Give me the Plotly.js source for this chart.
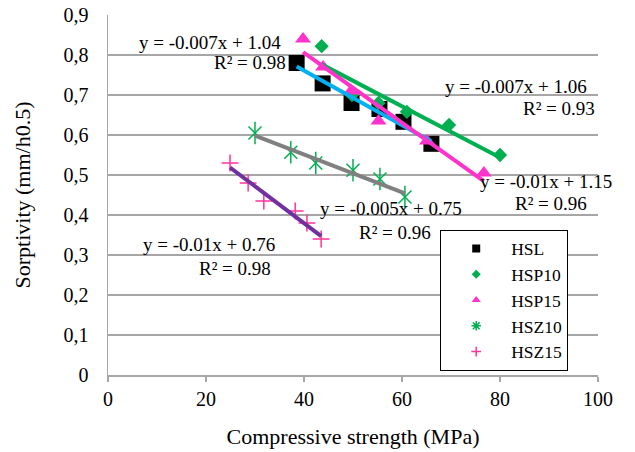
<!DOCTYPE html>
<html>
<head>
<meta charset="utf-8">
<script src="https://cdn.plot.ly/plotly-3.0.1.min.js"></script>
<style>html,body{margin:0;padding:0;background:#fff;}#chart{width:635px;height:452px;}</style>
</head>
<body>
<div id="chart"></div>
<script>
// ---- data ----
const seriesNames = ["HSL", "HSP10", "HSP15", "HSZ10", "HSZ15"];
const hslX   = [38.5, 43.8, 49.7, 55.4, 60.3, 66.0];
const hslY   = [0.78, 0.729, 0.68, 0.665, 0.633, 0.578];
const hsp10X = [43.6, 49.8, 55.2, 61.0, 69.6, 80.0];
const hsp10Y = [0.822, 0.70, 0.68, 0.658, 0.625, 0.55];
const hsp15X = [39.8, 43.9, 49.6, 55.2, 65.1, 76.7];
const hsp15Y = [0.84, 0.77, 0.71, 0.635, 0.585, 0.505];
const hsz10X = [30.0, 37.3, 42.4, 50.0, 55.5, 60.6];
const hsz10Y = [0.605, 0.557, 0.53, 0.512, 0.49, 0.445];
const hsz15X = [24.9, 28.6, 31.8, 38.2, 40.6, 43.5];
const hsz15Y = [0.53, 0.48, 0.435, 0.41, 0.38, 0.34];
const eqTexts = ["y = -0.007x + 1.04", "R² = 0.98",
                 "y = -0.007x + 1.06", "R² = 0.93",
                 "y = -0.01x + 1.15", "R² = 0.96",
                 "y = -0.005x + 0.75", "R² = 0.96",
                 "y = -0.01x + 0.76", "R² = 0.98"];
const yTickVals = [0, 0.1, 0.2, 0.3, 0.4, 0.5, 0.6, 0.7, 0.8, 0.9];
const yTickText = ["0", "0,1", "0,2", "0,3", "0,4", "0,5", "0,6", "0,7", "0,8", "0,9"];
const xTickVals = [0, 20, 40, 60, 80, 100];

const SERIF = "'Liberation Serif', 'Times New Roman', 'DejaVu Serif', serif";

// ---- helpers ----
function fit(xs, ys) {
  const n = xs.length;
  const mx = xs.reduce((a, b) => a + b, 0) / n;
  const my = ys.reduce((a, b) => a + b, 0) / n;
  let sxy = 0, sxx = 0;
  for (let i = 0; i < n; i++) { sxy += (xs[i] - mx) * (ys[i] - my); sxx += (xs[i] - mx) ** 2; }
  const m = sxy / sxx, b = my - m * mx;
  const x0 = Math.min(...xs), x1 = Math.max(...xs);
  return { x: [x0, x1], y: [m * x0 + b, m * x1 + b] };
}
function trend(xs, ys, color) {
  const f = fit(xs, ys);
  return { x: f.x, y: f.y, mode: "lines", line: { color: color, width: 4 }, showlegend: false, hoverinfo: "skip" };
}
function legendOnly(name, marker) {
  return { x: [null], y: [null], name: name, mode: "markers", marker: marker, showlegend: true };
}

const GREEN = "#00B050", MAG = "#FF33CC", PINK = "#FF3399";
const traces = [
  { x: hslX, y: hslY, name: seriesNames[0], mode: "markers", showlegend: false, marker: { symbol: "square", size: 16, color: "#000" } },
  { x: hsp10X, y: hsp10Y, name: seriesNames[1], mode: "markers", showlegend: false, marker: { symbol: "diamond", size: 11, color: GREEN } },
  { x: hsp15X, y: hsp15Y, name: seriesNames[2], mode: "markers", showlegend: false, marker: { symbol: "triangle-up", size: 14, color: MAG } },
  { x: hsz10X, y: hsz10Y, name: seriesNames[3], mode: "markers", showlegend: false, marker: { symbol: "x-thin-open", size: 13, color: GREEN, line: { color: GREEN, width: 1.5 } } },
  { x: hsz10X, y: hsz10Y, name: seriesNames[3], mode: "markers", showlegend: false, marker: { symbol: "line-ns-open", size: 16, color: GREEN, line: { color: GREEN, width: 1.5 } } },
  { x: hsz15X, y: hsz15Y, name: seriesNames[4], mode: "markers", showlegend: false, marker: { symbol: "cross-thin-open", size: 12, color: PINK, line: { color: PINK, width: 1.5 } } },
  trend(hslX, hslY, "#00B0F0"),
  trend(hsp10X, hsp10Y, GREEN),
  trend(hsp15X, hsp15Y, MAG),
  trend(hsz10X, hsz10Y, "#808080"),
  trend(hsz15X, hsz15Y, "#7030A0"),
  legendOnly(seriesNames[0], { symbol: "square", size: 8, color: "#000" }),
  legendOnly(seriesNames[1], { symbol: "diamond", size: 7, color: GREEN }),
  legendOnly(seriesNames[2], { symbol: "triangle-up", size: 8, color: MAG }),
  legendOnly(seriesNames[3], { symbol: "asterisk-open", size: 8, color: GREEN, line: { color: GREEN, width: 1.5 } }),
  legendOnly(seriesNames[4], { symbol: "cross-thin-open", size: 7, color: PINK, line: { color: PINK, width: 1.5 } })
];

// label positions (data coords, left anchored)
const labPos = [[5.9, 0.8325], [21.2, 0.7825], [68.4, 0.7225], [84.3, 0.6675], [75.5, 0.485],
                [82.7, 0.43], [42.9, 0.4175], [50.8, 0.3575], [6.7, 0.3275], [18.2, 0.2675]];
const annotations = eqTexts.map((t, i) => ({
  x: labPos[i][0], y: labPos[i][1], xref: "x", yref: "y", text: t, showarrow: false,
  xanchor: "left", yanchor: "middle", font: { family: SERIF, size: 19, color: "#000" }
}));

const layout = {
  width: 635, height: 452,
  margin: { l: 108, r: 37, t: 15, b: 77 },
  paper_bgcolor: "#fff", plot_bgcolor: "#fff",
  font: { family: SERIF, size: 20, color: "#000" },
  showlegend: true,
  legend: {
    x: 0.678, y: 0.012, xanchor: "left", yanchor: "bottom",
    bgcolor: "#fff", bordercolor: "#000", borderwidth: 1,
    font: { family: SERIF, size: 17.5, color: "#000" },
    itemwidth: 60
  },
  xaxis: {
    range: [0, 100], tickvals: xTickVals, showgrid: false, zeroline: false,
    showline: true, linecolor: "#A6A6A6", linewidth: 1.5,
    ticks: "outside", ticklen: 5, tickcolor: "#A6A6A6", tickwidth: 1.5,
    tickfont: { family: SERIF, size: 20 },
    title: { text: "Compressive strength (MPa)", font: { family: SERIF, size: 22 }, standoff: 20 }
  },
  yaxis: {
    range: [0, 0.9], tickvals: yTickVals, ticktext: yTickText,
    showgrid: true, gridcolor: "#A6A6A6", gridwidth: 1.5, zeroline: false,
    showline: true, linecolor: "#A6A6A6", linewidth: 1.5, ticks: "", ticklabelstandoff: 14,
    tickfont: { family: SERIF, size: 20 },
    title: { text: "Sorptivity (mm/h0.5)", font: { family: SERIF, size: 22 }, standoff: 27 }
  },
  annotations: annotations
};

Plotly.newPlot("chart", traces, layout, { displayModeBar: false, staticPlot: true });
</script>
</body>
</html>
